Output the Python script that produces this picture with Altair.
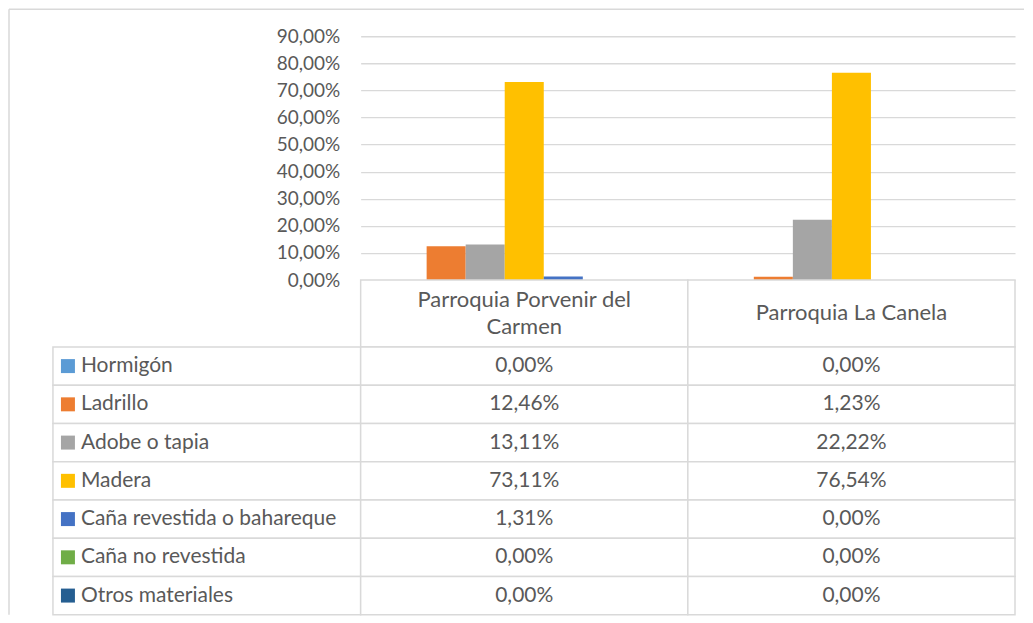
import altair as alt
import pandas as pd

materiales = ["Hormigón", "Ladrillo", "Adobe o tapia", "Madera",
              "Caña revestida o bahareque", "Caña no revestida", "Otros materiales"]
colores = ["#5B9BD5", "#ED7D31", "#A5A5A5", "#FFC000", "#4472C4", "#70AD47", "#255E91"]
parroquias = ["Parroquia Porvenir del Carmen", "Parroquia La Canela"]
encabezados = ["Parroquia Porvenir del\nCarmen", "Parroquia La Canela"]
porvenir = [0.0, 0.1246, 0.1311, 0.7311, 0.0131, 0.0, 0.0]
canela = [0.0, 0.0123, 0.2222, 0.7654, 0.0, 0.0, 0.0]
ticks_y = [0, 0.1, 0.2, 0.3, 0.4, 0.5, 0.6, 0.7, 0.8, 0.9]

FONT = "Lato"
TXT = "#595959"
LINE = "#d9d9d9"
W0, W1 = 308, 655
H_PLOT, H_HEAD, H_BODY = 244, 67, 268

rows = []
for p, vals in zip(parroquias, [porvenir, canela]):
    for m, v in zip(materiales, vals):
        rows.append({"parroquia": p, "material": m, "valor": v})
df = pd.DataFrame(rows)
head_df = pd.DataFrame({"parroquia": parroquias, "etiqueta": encabezados})
leg_df = pd.DataFrame({"material": materiales})
blank = pd.DataFrame({"k": [0]})

x_band = alt.X("parroquia:N", sort=parroquias,
               scale=alt.Scale(paddingInner=0, paddingOuter=0), axis=None)
y_rows = alt.Y("material:N", sort=materiales,
               scale=alt.Scale(paddingInner=0, paddingOuter=0), axis=None)
color_enc = alt.Color("material:N", sort=materiales,
                      scale=alt.Scale(domain=materiales, range=colores), legend=None)

# top-left: chart frame (decorative)
frame_h = alt.Chart(blank).mark_rule(color=LINE, strokeWidth=1.5).encode(
    x=alt.value(-44), x2=alt.value(W0 + W1 + 9), y=alt.value(-27))
frame_v = alt.Chart(blank).mark_rule(color=LINE, strokeWidth=1.5).encode(
    x=alt.value(-44), y=alt.value(-27), y2=alt.value(H_PLOT + H_HEAD + H_BODY))
top_left = (frame_h + frame_v).properties(width=W0, height=H_PLOT)

bars = alt.Chart(df).mark_bar().encode(
    x=x_band,
    xOffset=alt.XOffset("material:N", sort=materiales,
                        scale=alt.Scale(paddingInner=0, paddingOuter=0.69)),
    y=alt.Y("valor:Q", scale=alt.Scale(domain=[0, 0.9], nice=False),
            axis=alt.Axis(values=ticks_y, title=None, domain=False, ticks=False,
                          grid=True, gridColor=LINE, gridWidth=1.3,
                          labelExpr="replace(format(datum.value, '.2%'), '.', ',')",
                          labelFont=FONT, labelFontSize=19, labelColor=TXT,
                          labelPadding=21)),
    color=color_enc,
).properties(width=W1, height=H_PLOT)

head_left = alt.Chart(blank).mark_rect(opacity=0).encode(
    x=alt.value(0)).properties(width=W0, height=H_HEAD)

head_cells = alt.Chart(head_df).mark_rect(fill="white", stroke=LINE, strokeWidth=1.5).encode(
    x=x_band)
head_text1 = alt.Chart(head_df).transform_filter(
    "indexof(datum.etiqueta, '\\n') < 0"
).mark_text(font=FONT, fontSize=22, color=TXT).encode(
    x=x_band, text="etiqueta:N")
head_text2 = alt.Chart(head_df).transform_filter(
    "indexof(datum.etiqueta, '\\n') >= 0"
).mark_text(font=FONT, fontSize=22, color=TXT, lineBreak="\n",
            lineHeight=28, dy=-14).encode(
    x=x_band, text="etiqueta:N")
header = (head_cells + head_text1 + head_text2).properties(width=W1, height=H_HEAD)

leg_cells = alt.Chart(leg_df).mark_rect(fill="white", stroke=LINE, strokeWidth=1.5).encode(
    y=y_rows)
leg_sw = alt.Chart(leg_df).mark_square(size=196, opacity=1).encode(
    y=y_rows, x=alt.value(15), color=color_enc)
leg_text = alt.Chart(leg_df).mark_text(font=FONT, fontSize=21, color=TXT,
                                       align="left").encode(
    y=y_rows, x=alt.value(28), text="material:N")
legend_col = (leg_cells + leg_sw + leg_text).properties(width=W0, height=H_BODY)

body_cells = alt.Chart(df).mark_rect(fill="white", stroke=LINE, strokeWidth=1.5).encode(
    x=x_band, y=y_rows)
body_text = alt.Chart(df).transform_calculate(
    etiqueta="replace(format(datum.valor, '.2%'), '.', ',')"
).mark_text(font=FONT, fontSize=21, color=TXT).encode(
    x=x_band, y=y_rows, text="etiqueta:N")
body = (body_cells + body_text).properties(width=W1, height=H_BODY)

chart = alt.concat(top_left, bars, head_left, header, legend_col, body,
                   columns=2, spacing=0, bounds="flush", align="each").resolve_scale(
    x="independent", y="independent", color="shared"
).properties(padding=0, background="white").configure_view(strokeWidth=0)

chart.save("out.html", embed_options={"renderer": "svg", "actions": False})
